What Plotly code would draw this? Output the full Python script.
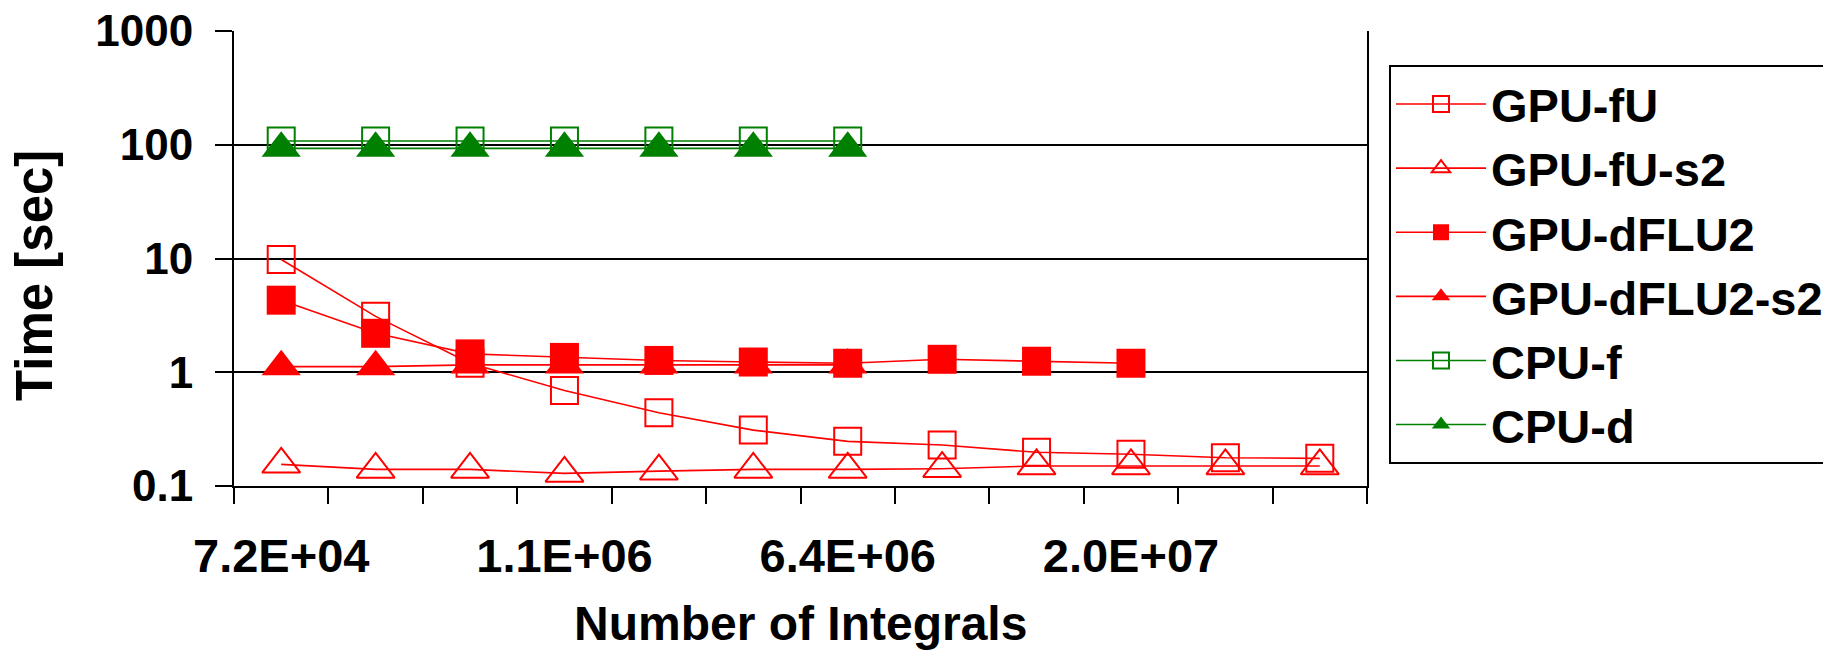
import plotly.graph_objects as go

# ---- data ----
cases = [1, 2, 3, 4, 5, 6, 7, 8, 9, 10, 11, 12]
tick_cases = [1, 4, 7, 10]
tick_labels = ["7.2E+04", "1.1E+06", "6.4E+06", "2.0E+07"]

gpu_fU = [9.8, 3.1, 1.2, 0.69, 0.44, 0.31, 0.247, 0.229, 0.198, 0.19, 0.177, 0.175]
gpu_fU_s2 = [0.155, 0.14, 0.14, 0.129, 0.135, 0.14, 0.14, 0.142, 0.15, 0.15, 0.15, 0.15]
gpu_dFLU2 = [4.3, 2.2, 1.45, 1.35, 1.27, 1.23, 1.2, 1.3, 1.25, 1.2]
gpu_dFLU2_s2 = [1.12, 1.12, 1.16, 1.16, 1.16, 1.16, 1.16]
cpu_f = [108, 108, 108, 108, 108, 108, 108]
cpu_d = [93, 93, 93, 93, 93, 93, 93]

y_ticks = [0.1, 1, 10, 100, 1000]
y_tick_labels = ["0.1", "1", "10", "100", "1000"]

x_title = "Number of Integrals"
y_title = "Time [sec]"

RED = "#FF0000"
GREEN = "#008000"
FONT = "Liberation Sans, Arial, sans-serif"

series = [
    ("GPU-fU", gpu_fU, RED, "square-open", 27),
    ("GPU-fU-s2", gpu_fU_s2, RED, "triangle-up-open", 33),
    ("GPU-dFLU2", gpu_dFLU2, RED, "square", 29),
    ("GPU-dFLU2-s2", gpu_dFLU2_s2, RED, "triangle-up", 34),
    ("CPU-f", cpu_f, GREEN, "square-open", 27),
    ("CPU-d", cpu_d, GREEN, "triangle-up", 34),
]

fig = go.Figure()
for name, vals, color, sym, size in series:
    is_open = sym.endswith("open")
    fig.add_trace(go.Scatter(
        x=cases[:len(vals)], y=vals, name=name, mode="lines+markers",
        line=dict(color=color, width=1.6),
        marker=dict(symbol=sym, size=size, color=color,
                    line=dict(color=color, width=2 if is_open else 0)),
    ))

# plot area: x 234..1367, y 31..486 (px)
L, R, T, B = 234, 1367, 31, 486
W, H = 1823, 654

fig.update_layout(
    width=W, height=H,
    margin=dict(l=L, r=W - R, t=T, b=H - B, autoexpand=False),
    plot_bgcolor="white", paper_bgcolor="white",
    font=dict(family=FONT, size=44, color="black", weight="bold"),
    showlegend=True,
    legend=dict(
        x=(1389 - L) / (R - L), y=(B - 65) / (B - T),
        xanchor="left", yanchor="top",
        bordercolor="black", borderwidth=2, bgcolor="white",
        font=dict(family=FONT, size=47, color="black", weight="bold"),
        tracegroupgap=0, itemwidth=90,
    ),
    annotations=[
        dict(text=y_title, textangle=-90, xref="paper", yref="paper",
             x=(34 - L) / (R - L), y=(B - 276) / (B - T),
             xanchor="center", yanchor="middle", showarrow=False,
             font=dict(family=FONT, size=51, color="black", weight="bold")),
        dict(text=x_title, xref="paper", yref="paper",
             x=0.5, y=(B - 623) / (B - T),
             xanchor="center", yanchor="middle", showarrow=False,
             font=dict(family=FONT, size=48, color="black", weight="bold")),
    ],
)

fig.update_xaxes(
    range=[0.5, 12.5], showgrid=False, zeroline=False, automargin=False,
    showline=True, linecolor="black", linewidth=2,
    tickmode="array", tickvals=tick_cases, ticktext=tick_labels,
    ticks="", ticklabelstandoff=28,
    tickfont=dict(family=FONT, size=47, color="black", weight="bold"),
    minor=dict(ticks="outside", ticklen=16, tickwidth=2, tickcolor="black",
               tick0=0.5, dtick=1, showgrid=False),
)

fig.update_yaxes(
    type="log", range=[-1, 3], showgrid=True, gridcolor="black", gridwidth=2,
    zeroline=False, automargin=False,
    showline=True, linecolor="black", linewidth=2, mirror=True,
    tickmode="array", tickvals=y_ticks, ticktext=y_tick_labels,
    ticks="outside", ticklen=17, tickwidth=2, tickcolor="black",
    ticklabelstandoff=13,
    tickfont=dict(family=FONT, size=44, color="black", weight="bold"),
)

fig.write_html(
    "out.html",
    config={"displayModeBar": False},
    post_script="document.body.style.margin='0px';document.body.style.overflow='hidden';",
)
